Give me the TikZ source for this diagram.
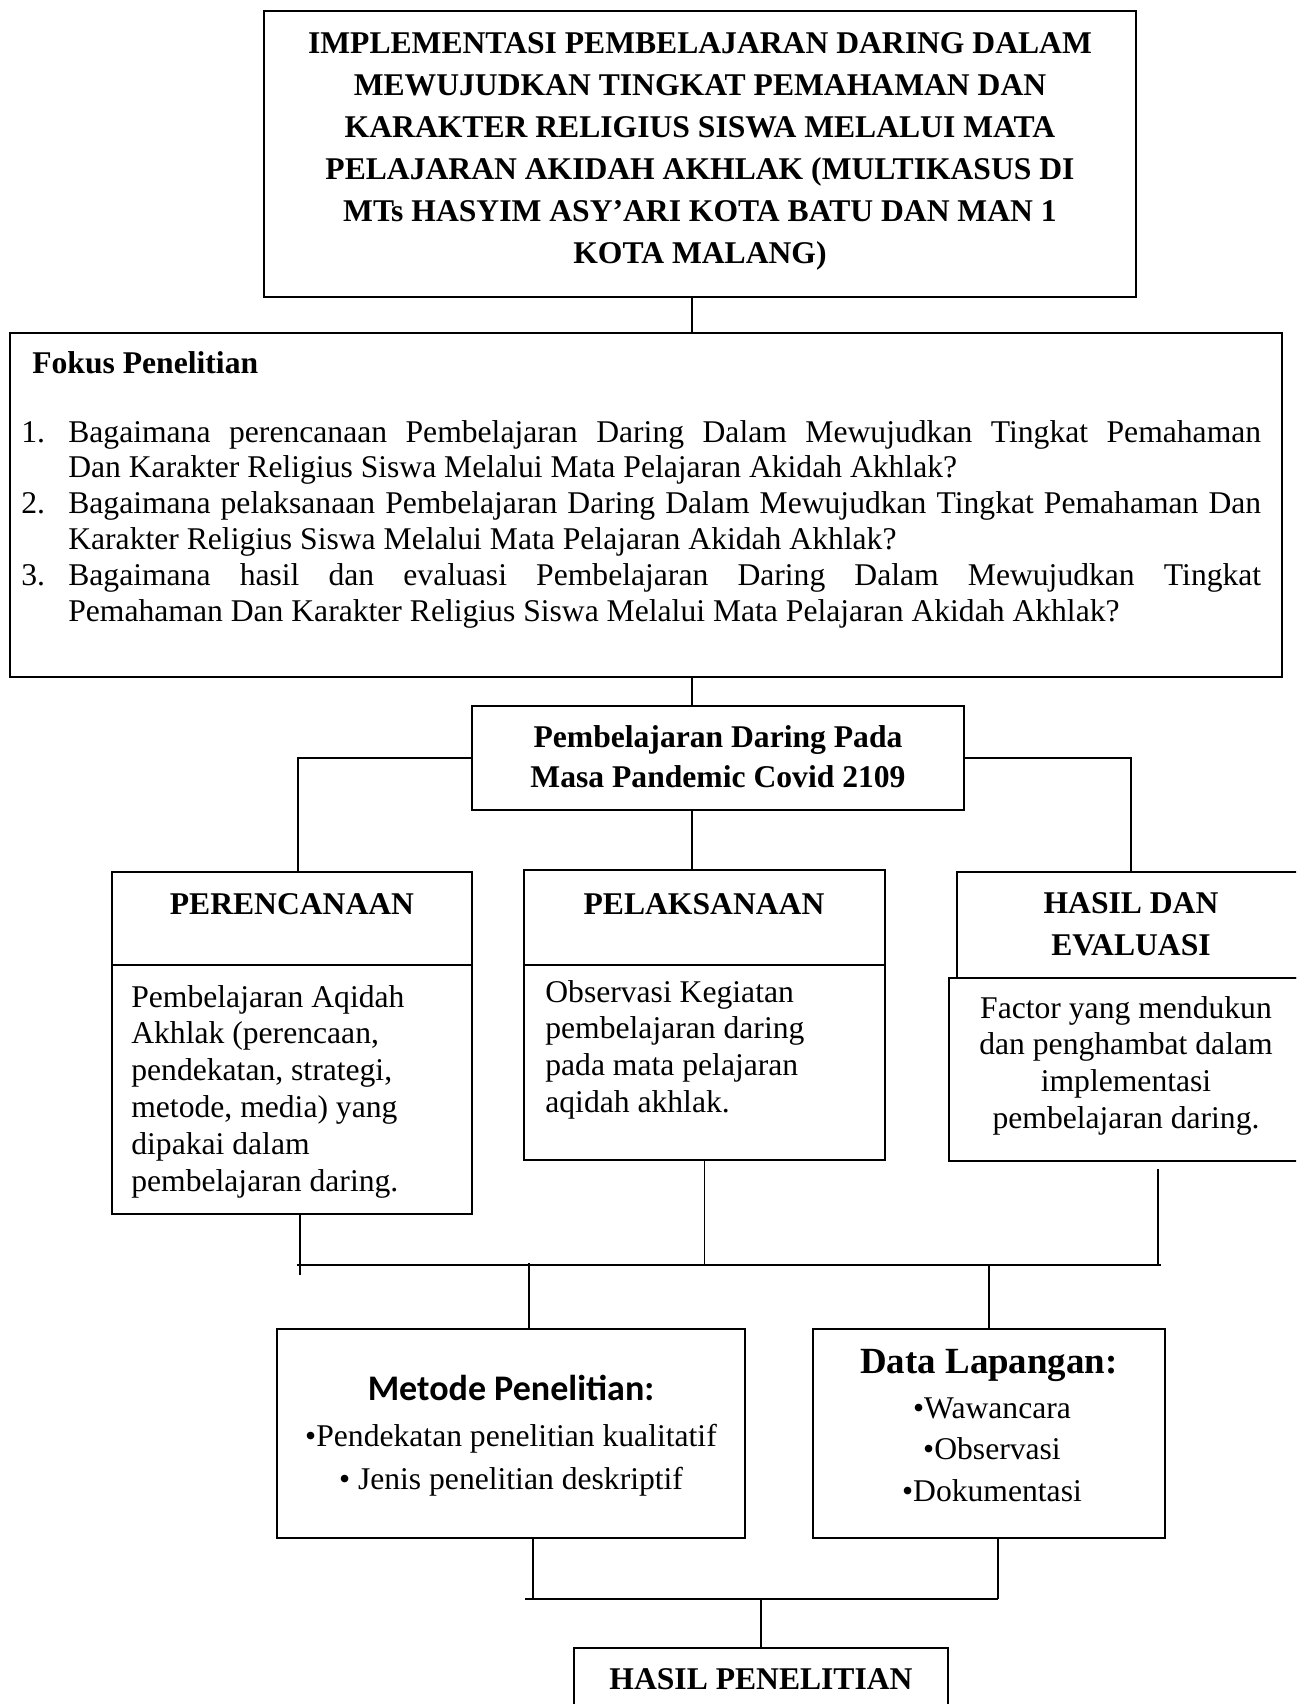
\documentclass[tikz,border=0pt]{standalone}
\usepackage{fontspec}
\setmainfont{Liberation Serif}
\newfontfamily\calibrifont{Carlito}
\usepackage{tikz}
\usetikzlibrary{fit}

\begin{document}
\begin{tikzpicture}[x=0.02cm, y=-0.02cm,
    box/.style={draw, line width=1.2pt, inner sep=0pt},
    link/.style={line width=1pt},
    bus/.style={line width=1.6pt},
    plain/.style={inner sep=0pt, font=\fontsize{18}{21}\selectfont},
    bold/.style={inner sep=0pt, font=\bfseries\fontsize{18}{24}\selectfont}]
    % Page
    \clip (0,0) rectangle (1296,1704);
    \fill[white] (0,0) rectangle (1296,1704);

    % Boxes
    \node[box, fit={(264,11) (1136,297)}] (title) {};
    \node[box, fit={(10,333) (1282,677)}] (fokus) {};
    \node[box, fit={(472,706) (964,810)}] (pemb) {};
    \node[box, fit={(112,872) (472,965)}] (perenchead) {};
    \node[box, fit={(112,965) (472,1214)}] (perencbody) {};
    \node[box, fit={(524,870) (885,965)}] (pelakshead) {};
    \node[box, fit={(524,965) (885,1160)}] (pelaksbody) {};
    \node[box, fit={(957,872) (1305,978)}] (hasilhead) {};
    \node[box, fit={(949,978) (1303,1161)}] (hasilbody) {};
    \node[box, fit={(277,1329) (745,1538)}] (metode) {};
    \node[box, fit={(813,1329) (1165,1538)}] (data) {};
    \node[box, fit={(574,1648) (948,1712)}] (hasilp) {};

    % Texts
    \node[bold, text width=17cm, align=flush center, anchor=base] (titletext) at (700,53)
        {IMPLEMENTASI PEMBELAJARAN DARING DALAM\\MEWUJUDKAN TINGKAT PEMAHAMAN DAN\\
         KARAKTER RELIGIUS SISWA MELALUI MATA\\PELAJARAN AKIDAH AKHLAK (MULTIKASUS DI\\
         MTs HASYIM ASY’ARI KOTA BATU DAN MAN 1\\KOTA MALANG)};
    \node[bold, anchor=base west] (fokushead) at (32,373) {Fokus Penelitian};
    \node[plain, font=\fontsize{18}{20.4}\selectfont, text width=24.8cm, align=justify,
          anchor=base west] (fokuslist) at (21,442) {\parindent=0pt
        \hangindent=0.94cm\hangafter=1\makebox[0.94cm][l]{1.}Bagaimana perencanaan Pembelajaran Daring Dalam Mewujudkan Tingkat Pemahaman\linebreak
        Dan Karakter Religius Siswa Melalui Mata Pelajaran Akidah Akhlak?\par
        \hangindent=0.94cm\hangafter=1\makebox[0.94cm][l]{2.}Bagaimana pelaksanaan Pembelajaran Daring Dalam Mewujudkan Tingkat Pemahaman Dan\linebreak
        Karakter Religius Siswa Melalui Mata Pelajaran Akidah Akhlak?\par
        \hangindent=0.94cm\hangafter=1\makebox[0.94cm][l]{3.}Bagaimana hasil dan evaluasi Pembelajaran Daring Dalam Mewujudkan Tingkat\linebreak
        Pemahaman Dan Karakter Religius Siswa Melalui Mata Pelajaran Akidah Akhlak?\par};
    \node[bold, font=\bfseries\fontsize{18}{23.2}\selectfont, text width=9cm, align=flush center, anchor=base] (pembtext) at (718,747)
        {Pembelajaran Daring Pada\\Masa Pandemic Covid 2109};
    \node[bold, anchor=base] (perenclabel) at (292,914) {PERENCANAAN};
    \node[bold, anchor=base] (pelakslabel) at (704,914) {PELAKSANAAN};
    \node[bold, text width=6cm, align=flush center, anchor=base] (hasillabel) at (1131,913) {HASIL DAN\\EVALUASI};
    \node[plain, text width=6.5cm, align=flush left, anchor=base west] (perenctext) at (131,1007)
        {Pembelajaran Aqidah\\Akhlak (perencaan,\\pendekatan, strategi,\\metode, media) yang\\dipakai dalam\\pembelajaran daring.};
    \node[plain, text width=6.5cm, align=flush left, anchor=base west] (pelakstext) at (545,1002)
        {Observasi Kegiatan\\pembelajaran daring\\pada mata pelajaran\\aqidah akhlak.};
    \node[plain, text width=6.8cm, align=flush center, anchor=base] (hasiltext) at (1126,1018)
        {Factor yang mendukun\\dan penghambat dalam\\implementasi\\pembelajaran daring.};
    \node[inner sep=0pt, font=\calibrifont\bfseries\fontsize{20.5}{24}\selectfont, anchor=base] (metodehead) at (511,1400)
        {Metode Penelitian:};
    \node[plain, font=\fontsize{18}{25}\selectfont, text width=9cm, align=flush center, anchor=base] (metodetext) at (511,1446)
        {•Pendekatan penelitian kualitatif\\• Jenis penelitian deskriptif};
    \node[bold, font=\bfseries\fontsize{21}{25}\selectfont, anchor=base] (datahead) at (989,1373) {Data Lapangan:};
    \node[plain, font=\fontsize{18}{23.8}\selectfont, text width=6cm, align=flush center, anchor=base] (datatext) at (992,1418)
        {•Wawancara\\•Observasi\\•Dokumentasi};
    \node[bold, anchor=base] (hasilptext) at (761,1689) {HASIL PENELITIAN};

    % Connectors
    \coordinate (spine) at (692,0);
    \draw[link] (title.south -| spine) -- (fokus.north -| spine);
    \draw[link] (fokus.south -| spine) -- (pemb.north -| spine);
    \draw[link] (pemb.south -| spine) -- (pelakshead.north -| spine);
    \draw[link] (pemb.west) -| ([xshift=0.12cm]perenchead.north);
    \draw[link] (pemb.east) -| (hasilhead.north);

    % First bus
    \coordinate (bus1w) at (297,1265);
    \coordinate (bus1e) at (1161,1265);
    \coordinate (perencdrop) at (300,1275);
    \coordinate (hasildrop) at (1158,1169);
    \coordinate (metodetap) at (529,1263);
    \draw[bus] (bus1w) -- (bus1e);
    \draw[link] (perencbody.south -| perencdrop) -- (perencdrop);
    \draw[link] (pelaksbody.south) -- (pelaksbody.south |- bus1w);
    \draw[link] (hasildrop) -- (hasildrop |- bus1e);
    \draw[link] (metodetap) -- (metodetap |- metode.north);
    \draw[link] (data.north) -- (data.north |- bus1e);

    % Second bus
    \coordinate (bus2w) at (525,1599);
    \coordinate (bus2e) at (998,1599);
    \coordinate (metodedrop) at (533,1599);
    \draw[bus] (bus2w) -- (bus2e);
    \draw[link] (metode.south -| metodedrop) -- (metodedrop);
    \draw[link] (data.south -| bus2e) -- (bus2e);
    \draw[link] (hasilp.north |- bus2w) -- (hasilp.north);
\end{tikzpicture}
\end{document}
